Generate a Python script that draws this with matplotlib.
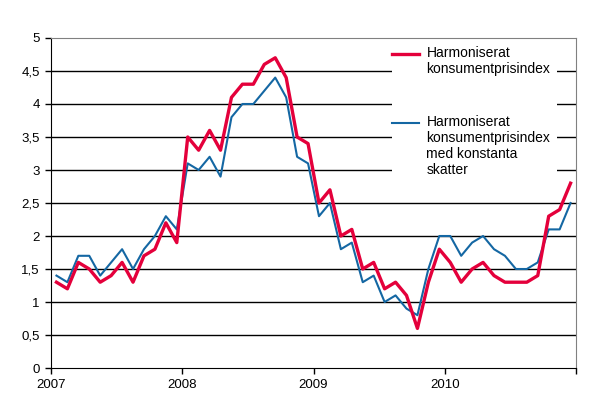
#!/usr/bin/env python3
"""HICP and HICP at constant taxes, annual change, 2007-2010"""

import matplotlib
matplotlib.use('Agg')
import matplotlib.pyplot as plt
from matplotlib.lines import Line2D
from matplotlib.patches import Rectangle
import numpy as np

years = ['2007', '2008', '2009', '2010']

# annual change, %, monthly Jan 2007 - Dec 2010
hicp = [1.3, 1.2, 1.6, 1.5, 1.3, 1.4, 1.6, 1.3, 1.7, 1.8, 2.2, 1.9,
        3.5, 3.3, 3.6, 3.3, 4.1, 4.3, 4.3, 4.6, 4.7, 4.4, 3.5, 3.4,
        2.5, 2.7, 2.0, 2.1, 1.5, 1.6, 1.2, 1.3, 1.1, 0.6, 1.3, 1.8,
        1.6, 1.3, 1.5, 1.6, 1.4, 1.3, 1.3, 1.3, 1.4, 2.3, 2.4, 2.8]
hicp_ct = [1.4, 1.3, 1.7, 1.7, 1.4, 1.6, 1.8, 1.5, 1.8, 2.0, 2.3, 2.1,
           3.1, 3.0, 3.2, 2.9, 3.8, 4.0, 4.0, 4.2, 4.4, 4.1, 3.2, 3.1,
           2.3, 2.5, 1.8, 1.9, 1.3, 1.4, 1.0, 1.1, 0.9, 0.8, 1.5, 2.0,
           2.0, 1.7, 1.9, 2.0, 1.8, 1.7, 1.5, 1.5, 1.6, 2.1, 2.1, 2.5]

label_hicp = 'Harmoniserat\nkonsumentprisindex'
label_ct = 'Harmoniserat\nkonsumentprisindex\nmed konstanta\nskatter'

RED = '#e4003b'
BLUE = '#1467a3'

plt.rcParams['font.family'] = ['Liberation Sans', 'DejaVu Sans']
plt.rcParams['font.size'] = 9.5

fig = plt.figure(figsize=(6.07, 4.18), dpi=100)
ax = fig.add_axes([0.084, 0.1196, 0.865, 0.7895])

x = np.arange(len(hicp)) + 0.5
ax.plot(x, hicp_ct, color=BLUE, lw=1.5, zorder=3)
ax.plot(x, hicp, color=RED, lw=2.4, zorder=4)

ax.set_xlim(0, len(hicp))
ax.set_ylim(0, 5)
yt = np.arange(0, 5.01, 0.5)
ax.set_yticks(yt)
ax.set_yticklabels([('%g' % v).replace('.', ',') for v in yt])
ax.set_xticks(np.arange(0, len(hicp) + 1, 12))
ax.set_xticklabels(years + [''])
ax.tick_params(direction='out', length=4, width=1, color='black', pad=4)

for v in yt[1:-1]:
    ax.axhline(v, color='black', lw=1, zorder=1)

ax.spines['left'].set_color('black')
ax.spines['bottom'].set_color('black')
ax.spines['top'].set_color('#808080')
ax.spines['right'].set_color('#808080')

# legend drawn by hand so the key line sits beside the first text line
ax.add_patch(Rectangle((0.65, 0.555), 0.314, 0.44, transform=ax.transAxes,
                       facecolor='white', edgecolor='none', zorder=5))
entries = [(label_hicp, RED, 2.4, 0.9515, 0.9745),
           (label_ct, BLUE, 1.5, 0.7424, 0.7654)]
for label, color, lw, y_line, y_text in entries:
    ax.add_line(Line2D([0.6495, 0.701], [y_line, y_line], color=color, lw=lw,
                       transform=ax.transAxes, zorder=6))
    ax.text(0.715, y_text, label, transform=ax.transAxes, va='top', ha='left',
            fontsize=10, linespacing=1.18, zorder=6)

fig.savefig('out.png', dpi=100)
